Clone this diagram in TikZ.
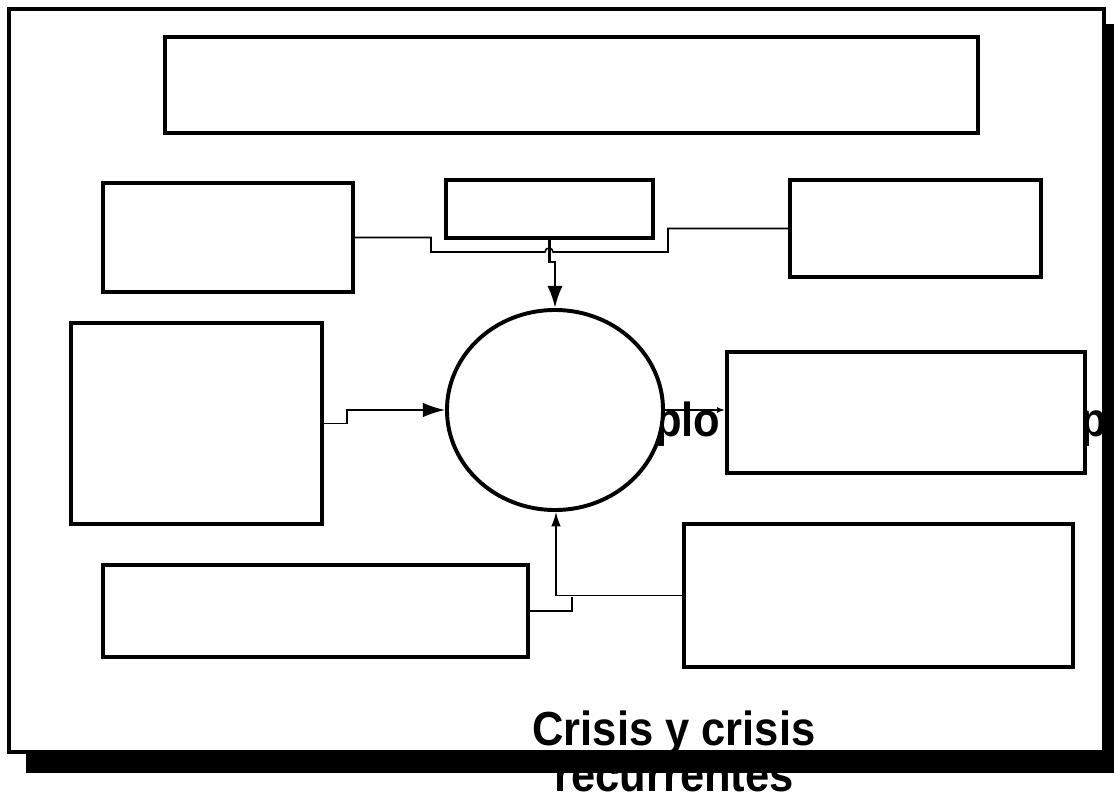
\documentclass[tikz,border=0pt]{standalone}
\usepackage{fontspec}
\setmainfont{Liberation Sans}
\newfontfamily\headfont[FakeStretch=0.91]{Liberation Sans}
\usetikzlibrary{positioning}
\usetikzlibrary{shapes.geometric, fit, arrows.meta}

\tikzset{
  card/.style={draw, line width=2.8pt, fill=white, inner sep=0pt},
  link/.style={line width=1.1pt},
  bigtext/.style={font=\headfont\fontsize{34}{36}\selectfont\bfseries, inner sep=0pt},
}

\begin{document}
\begin{tikzpicture}[x=0.025cm,y=-0.025cm]
\useasboundingbox (0,0) rectangle (1114,794);
\fill[black] (26,24) rectangle (1130,773);
\draw[line width=2.8pt, fill=white] (9,9) rectangle (1104,752);

\node[bigtext, anchor=base west] (hid1) at (655,437) {plo};
\node[bigtext, anchor=base west] (hid2) at (1080,437) {p};
\node[bigtext, anchor=base] (cap1) at (674,745) {Crisis y crisis};
\node[bigtext, anchor=base] (cap2) at (674,791) {recurrentes};

\node[card, fit={(165,37) (978,133)}] (banner) {};
\node[card, fit={(103,183) (353,292)}] (lt) {};
\node[card, fit={(446,180) (653,238)}] (ct) {};
\node[card, fit={(790,180) (1041,277)}] (rt) {};
\node[card, fit={(71,323) (322,524)}] (lm) {};
\node[card, fit={(727,352) (1085,473)}] (rm) {};
\node[card, fit={(103,565) (528,657)}] (bl) {};
\node[card, fit={(684,524) (1073,667)}] (br) {};

\coordinate (j1) at (431,252);
\coordinate (j2) at (668,252);
\coordinate (jb) at (572,597);

\draw[link] (lt.east) -- (lt.east -| j1) -- (j1) -- (545,252) arc[start angle=180, end angle=360, radius=4] -- (j2) -- (j2 |- rt.west) -- (rt.west);
\draw[line width=2pt, -{Latex[length=0.55cm, width=0.38cm]}] (ct.south) -- ++(0,22) -| (555,308);
\draw[link, -{Latex[length=0.55cm, width=0.36cm]}] (lm.east) -- ++(23,0) |- (445,410);
\draw[link] (bl.east) -| (jb);
\draw[link, -{Latex[length=0.36cm, width=0.24cm]}] (br.west) -| (556,512);

\node[ellipse, draw, line width=2.8pt, fill=white, minimum width=5.4cm, minimum height=5cm] (hub) at (555,410) {};
\draw[link, -{Latex[length=0.2cm, width=0.15cm]}] (hub.east) -- (hub.east -| rm.west);
\end{tikzpicture}
\end{document}
